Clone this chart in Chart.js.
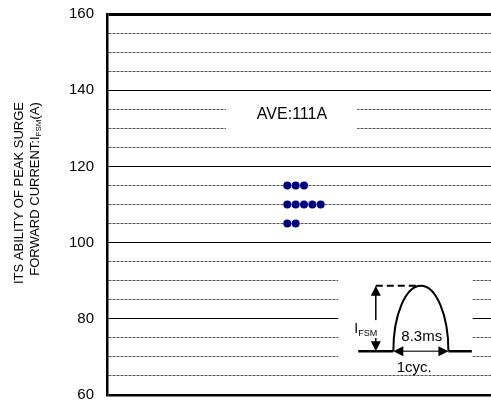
<!DOCTYPE html>
<html>
<head>
<meta charset="utf-8">
<script src="https://cdn.jsdelivr.net/npm/chart.js@4/dist/chart.umd.min.js"></script>
<style>
  html, body { margin: 0; padding: 0; background: #fff; }
  #wrap { width: 491px; height: 405px; }
</style>
</head>
<body>
<div id="wrap"><canvas id="surge-chart"></canvas></div>
<script>
// muestras: posicion (slot) y corriente de pico medida en A
const sampleSlots  = [22, 23, 24, 22, 23, 24, 25, 26, 22, 23];
const surgeCurrent = [115, 115, 115, 110, 110, 110, 110, 110, 105, 105];
const yTicks = [60, 80, 100, 120, 140, 160];
const averageText = "AVE:111A";
const titleLine1 = "ITS ABILITY OF PEAK SURGE";
const titleLine2 = ["FORWARD CURRENT:I", "FSM", "(A)"];

const FONT = "'Liberation Sans', Arial, sans-serif";

// cuadro del promedio y dibujo de la onda, en unidades de las escalas
const aveBox = { x0: 14.65, x1: 30.35, y0: 139.3, y1: 125.8, tx: 22.56, ty: 133.5 };
const wave = {
  box: { x0: 28.1, x1: 44.2, y0: 91, y1: 66 },
  base: 71.5, peak: 88.7,
  lineStart: 30.5, arcStart: 34.7, arcEnd: 41.3, lineEnd: 44.1,
  arrowX: 32.6,
  iLabel: { x: 31.4, y: 77.3 },
  msLabel: { x: 38.1, y: 75.2 },
  cycLabel: { x: 37.2, y: 67.1 }
};

function arrowHead(ctx, x, y, dir) {
  // dir: 'up','down','left','right'
  const l = 10, w = 5;
  ctx.beginPath();
  ctx.moveTo(x, y);
  if (dir === 'up') { ctx.lineTo(x - w, y + l); ctx.lineTo(x + w, y + l); }
  if (dir === 'down') { ctx.lineTo(x - w, y - l); ctx.lineTo(x + w, y - l); }
  if (dir === 'left') { ctx.lineTo(x + l, y - w); ctx.lineTo(x + l, y + w); }
  if (dir === 'right') { ctx.lineTo(x - l, y - w); ctx.lineTo(x - l, y + w); }
  ctx.closePath();
  ctx.fill();
}

const insetPlugin = {
  id: "inset",
  beforeDatasetsDraw(chart) {
    const ctx = chart.ctx;
    const X = v => chart.scales.x.getPixelForValue(v);
    const Y = v => chart.scales.y.getPixelForValue(v);
    ctx.save();

    // cuadro AVE
    ctx.fillStyle = "#fff";
    ctx.fillRect(X(aveBox.x0), Y(aveBox.y0), X(aveBox.x1) - X(aveBox.x0), Y(aveBox.y1) - Y(aveBox.y0));
    ctx.fillStyle = "#000";
    ctx.font = "16px " + FONT;
    ctx.textAlign = "center";
    ctx.textBaseline = "middle";
    ctx.fillText(averageText, X(aveBox.tx), Y(aveBox.ty));

    // onda de 1 ciclo
    const b = wave.box;
    ctx.fillStyle = "#fff";
    ctx.fillRect(X(b.x0), Y(b.y0), X(b.x1) - X(b.x0), Y(b.y1) - Y(b.y0));

    const base = Y(wave.base), top = Y(wave.peak);
    const a0 = X(wave.arcStart), a1 = X(wave.arcEnd);
    const ax = X(wave.arrowX);
    ctx.strokeStyle = "#000";
    ctx.fillStyle = "#000";

    ctx.lineWidth = 2.5;
    ctx.beginPath();
    ctx.moveTo(X(wave.lineStart), base); ctx.lineTo(a0, base);
    ctx.moveTo(a1, base); ctx.lineTo(X(wave.lineEnd), base);
    ctx.stroke();

    ctx.lineWidth = 2;
    ctx.beginPath();
    ctx.ellipse((a0 + a1) / 2, base, (a1 - a0) / 2, base - top, 0, Math.PI, 2 * Math.PI);
    ctx.stroke();

    // linea punteada al pico
    ctx.setLineDash([7, 4]);
    ctx.beginPath();
    ctx.moveTo(ax, top); ctx.lineTo((a0 + a1) / 2 - 3, top);
    ctx.stroke();
    ctx.setLineDash([]);

    // flecha vertical
    ctx.lineWidth = 1.5;
    ctx.beginPath();
    ctx.moveTo(ax, top + 8); ctx.lineTo(ax, base - 8);
    ctx.stroke();
    arrowHead(ctx, ax, top, "up");
    arrowHead(ctx, ax, base, "down");

    // flecha horizontal
    ctx.strokeStyle = "#444";
    ctx.beginPath();
    ctx.moveTo(a0 + 8, base); ctx.lineTo(a1 - 8, base);
    ctx.stroke();
    arrowHead(ctx, a0, base, "left");
    arrowHead(ctx, a1, base, "right");

    // textos
    ctx.textBaseline = "middle";
    const ix = X(wave.iLabel.x), iy = Y(wave.iLabel.y);
    ctx.font = "14px " + FONT;
    const wI = ctx.measureText("I").width;
    ctx.font = "9px " + FONT;
    const wS = ctx.measureText("FSM").width;
    ctx.fillStyle = "#fff";
    ctx.fillRect(ix - (wI + wS) / 2 - 1, iy - 9, wI + wS + 2, 18);
    ctx.fillStyle = "#000";
    ctx.textAlign = "left";
    ctx.font = "14px " + FONT;
    ctx.fillText("I", ix - (wI + wS) / 2, iy);
    ctx.font = "9px " + FONT;
    ctx.fillText("FSM", ix - (wI + wS) / 2 + wI, iy + 4);

    ctx.textAlign = "center";
    ctx.font = "15px " + FONT;
    ctx.fillText("8.3ms", X(wave.msLabel.x), Y(wave.msLabel.y));
    ctx.fillText("1cyc.", X(wave.cycLabel.x), Y(wave.cycLabel.y));
    ctx.restore();
  }
};

const titlePlugin = {
  id: "yTitle",
  afterDraw(chart) {
    const ctx = chart.ctx;
    ctx.save();
    ctx.fillStyle = "#000";
    ctx.textBaseline = "middle";
    // linea 1
    ctx.save();
    ctx.translate(19, 193);
    ctx.rotate(-Math.PI / 2);
    ctx.font = "13px " + FONT;
    ctx.textAlign = "center";
    ctx.fillText(titleLine1, 0, 0);
    ctx.restore();
    // linea 2 con subindice
    ctx.save();
    ctx.translate(35, 189);
    ctx.rotate(-Math.PI / 2);
    ctx.textAlign = "left";
    ctx.font = "13px " + FONT;
    const w0 = ctx.measureText(titleLine2[0]).width;
    const w2 = ctx.measureText(titleLine2[2]).width;
    ctx.font = "8px " + FONT;
    const w1 = ctx.measureText(titleLine2[1]).width;
    let x = -(w0 + w1 + w2) / 2;
    ctx.font = "13px " + FONT;
    ctx.fillText(titleLine2[0], x, 0); x += w0;
    ctx.font = "8px " + FONT;
    ctx.fillText(titleLine2[1], x, 4); x += w1;
    ctx.font = "13px " + FONT;
    ctx.fillText(titleLine2[2], x, 0);
    ctx.restore();
    ctx.restore();
  }
};

const points = sampleSlots.map((s, i) => ({ x: s, y: surgeCurrent[i] }));

const surgeChart = new Chart(document.querySelector("#surge-chart").getContext("2d"), {
  type: "scatter",
  data: {
    datasets: [{
      data: points,
      pointRadius: 4,
      pointHoverRadius: 4,
      pointBorderWidth: 0,
      backgroundColor: "#000080",
      borderColor: "#000080"
    }]
  },
  options: {
    responsive: true,
    maintainAspectRatio: false,
    animation: false,
    layout: { autoPadding: false, padding: { top: 14, bottom: 10, left: 0, right: 0 } },
    plugins: { legend: { display: false }, tooltip: { enabled: false } },
    scales: {
      x: { type: "linear", display: false, min: 0.4, max: 46.4 },
      y: {
        min: 60,
        max: 160,
        afterFit: scale => {
          scale.width = 107;
          scale.paddingTop = 0;
          scale.paddingBottom = 0;
        },
        afterBuildTicks: scale => {
          const t = [];
          for (let v = 60; v <= 160; v += 5) t.push({ value: v });
          scale.ticks = t;
        },
        ticks: {
          color: "#000",
          padding: 13,
          autoSkip: false,
          font: { family: FONT, size: 15 },
          callback: v => yTicks.includes(v) ? String(v) : ""
        },
        grid: {
          drawTicks: false,
          color: c => (c.tick && c.tick.value % 20 !== 0) ? "#555" : "#000",
          lineWidth: c => {
            if (!c.tick) return 1;
            if (c.tick.value === 160) return 3;
            if (c.tick.value === 60) return 2.5;
            return 1;
          }
        },
        border: {
          display: true,
          color: "#000",
          width: 2.5,
          dash: c => (c.tick && c.tick.value % 20 !== 0) ? [3, 1] : []
        }
      }
    }
  },
  plugins: [insetPlugin, titlePlugin]
});
</script>
</body>
</html>
